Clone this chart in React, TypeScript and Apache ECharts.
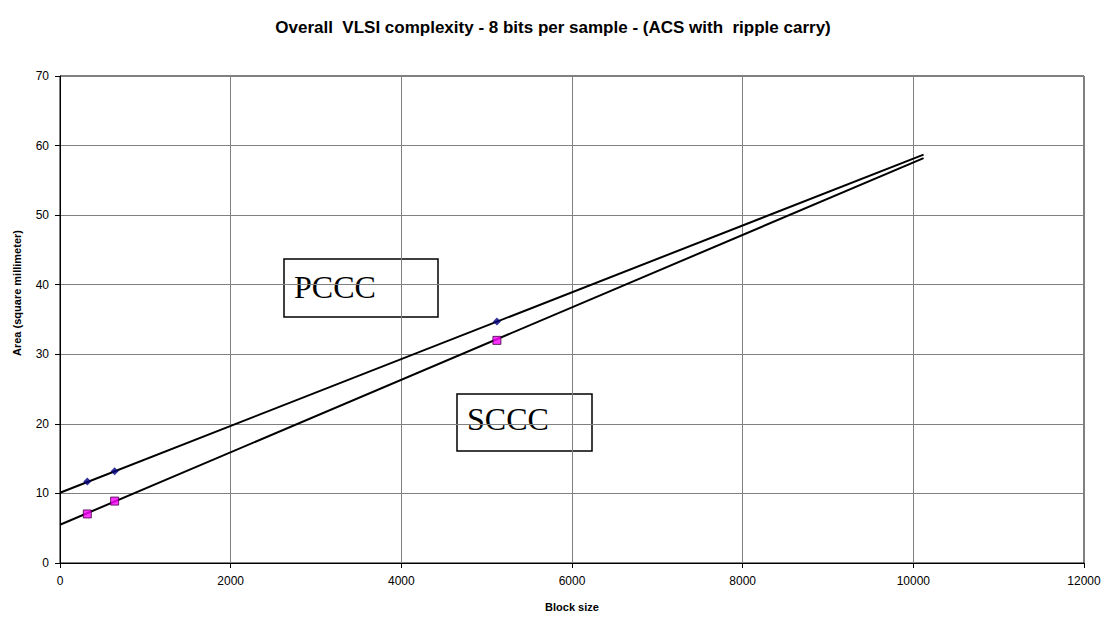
import React, { useEffect, useRef } from "react";
import * as echarts from "echarts";

const blockSizes = [320, 640, 5120];
const pcccArea = [11.7, 13.2, 34.7];
const scccArea = [7.05, 8.9, 32.0];
// Linear trendlines (start and end points)
const pcccTrend = [[0, 10.1], [10120, 58.7]];
const scccTrend = [[0, 5.5], [10120, 58.2]];
const xTicks = { min: 0, max: 12000, interval: 2000 };
const yTicks = { min: 0, max: 70, interval: 10 };

export default function App() {
  const ref = useRef<HTMLDivElement>(null);
  useEffect(() => {
    document.body.style.margin = "0";
    const chart = echarts.init(ref.current!, null, { renderer: "svg" });
    const font = "Arial, 'Liberation Sans', sans-serif";
    chart.setOption({
      animation: false,
      backgroundColor: "#fff",
      title: {
        text: "Overall  VLSI complexity - 8 bits per sample - (ACS with  ripple carry)",
        left: 548,
        top: 14,
        textAlign: "center",
        textStyle: { fontFamily: font, fontSize: 17, fontWeight: "bold", color: "#000" },
      },
      grid: { left: 60, right: 24, top: 76, bottom: 56, show: true, borderColor: "#000", borderWidth: 1 },
      xAxis: {
        type: "value",
        min: xTicks.min,
        max: xTicks.max,
        interval: xTicks.interval,
        axisLine: { lineStyle: { color: "#000", width: 1 } },
        axisTick: { show: true, inside: false, length: 5, lineStyle: { color: "#000" } },
        axisLabel: { color: "#000", fontFamily: font, fontSize: 12, margin: 12, formatter: (v: number) => String(v) },
        splitLine: { show: true, lineStyle: { color: "#808080", width: 1 } },
      },
      yAxis: {
        type: "value",
        min: yTicks.min,
        max: yTicks.max,
        interval: yTicks.interval,
        axisLine: { show: true, lineStyle: { color: "#000", width: 1 } },
        axisTick: { show: true, inside: false, length: 5, lineStyle: { color: "#000" } },
        axisLabel: { color: "#000", fontFamily: font, fontSize: 12, margin: 11 },
        splitLine: { show: true, lineStyle: { color: "#808080", width: 1 } },
      },
      graphic: [
        {
          type: "text",
          x: 17,
          y: 293,
          rotation: Math.PI / 2,
          style: {
            text: "Area (square millimeter)",
            fill: "#000",
            font: "bold 11px Arial, 'Liberation Sans', sans-serif",
            textAlign: "center",
            textVerticalAlign: "middle",
          },
        },
        {
          type: "text",
          x: 572,
          y: 607,
          style: {
            text: "Block size",
            fill: "#000",
            font: "bold 11px Arial, 'Liberation Sans', sans-serif",
            textAlign: "center",
            textVerticalAlign: "middle",
          },
        },
        {
          type: "group",
          z: 100,
          children: [
            { type: "rect", shape: { x: 284, y: 259, width: 154, height: 58 }, style: { fill: "#fff", stroke: "#000", lineWidth: 1.5 } },
            { type: "text", x: 294, y: 287, style: { text: "PCCC", fill: "#000", font: "32px 'Liberation Serif', 'Times New Roman', serif", textVerticalAlign: "middle" } },
            { type: "rect", shape: { x: 457, y: 394, width: 135, height: 57 }, style: { fill: "#fff", stroke: "#000", lineWidth: 1.5 } },
            { type: "text", x: 467, y: 419, style: { text: "SCCC", fill: "#000", font: "32px 'Liberation Serif', 'Times New Roman', serif", textVerticalAlign: "middle" } },
          ],
        },
      ],
      series: [
        {
          name: "PCCC trend",
          type: "line",
          data: pcccTrend,
          symbol: "none",
          lineStyle: { color: "#000", width: 2 },
          z: 2,
        },
        {
          name: "SCCC trend",
          type: "line",
          data: scccTrend,
          symbol: "none",
          lineStyle: { color: "#000", width: 2 },
          z: 2,
        },
        {
          name: "PCCC",
          type: "scatter",
          data: blockSizes.map((x, i) => [x, pcccArea[i]]),
          symbol: "diamond",
          symbolSize: 8,
          itemStyle: { color: "#000080" },
          z: 3,
        },
        {
          name: "SCCC",
          type: "scatter",
          data: blockSizes.map((x, i) => [x, scccArea[i]]),
          symbol: "rect",
          symbolSize: 8,
          itemStyle: { color: "#FF00FF", borderColor: "#400040", borderWidth: 1 },
          z: 3,
        },
      ],
    });
    return () => chart.dispose();
  }, []);
  return <div ref={ref} style={{ width: 1108, height: 619 }} />;
}
